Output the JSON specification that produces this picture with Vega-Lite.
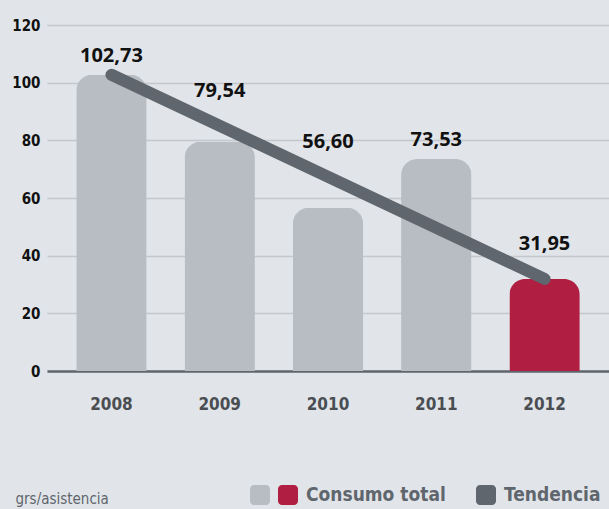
{
  "$schema": "https://vega.github.io/schema/vega-lite/v6.json",
  "width": 562,
  "height": 346,
  "autosize": {"type": "none"},
  "padding": {"left": 47, "top": 25, "right": 0, "bottom": 138},
  "background": "#e1e5e9",
  "config": {
    "view": {"stroke": null},
    "font": "DejaVu Sans Condensed, sans-serif"
  },
  "datasets": {
    "consumo": [
      {"anio": "2008", "valor": 102.73, "etiqueta": "102,73", "serie": "Anteriores"},
      {"anio": "2009", "valor": 79.54, "etiqueta": "79,54", "serie": "Anteriores"},
      {"anio": "2010", "valor": 56.60, "etiqueta": "56,60", "serie": "Anteriores"},
      {"anio": "2011", "valor": 73.53, "etiqueta": "73,53", "serie": "Anteriores"},
      {"anio": "2012", "valor": 31.95, "etiqueta": "31,95", "serie": "Consumo total"}
    ],
    "tendencia": [
      {"anio": "2008", "valor": 102.73},
      {"anio": "2012", "valor": 31.95}
    ]
  },
  "encoding": {
    "x": {
      "field": "anio",
      "type": "ordinal",
      "scale": {"domain": ["2008", "2009", "2010", "2011", "2012"], "paddingInner": 0.35, "paddingOuter": 0.27},
      "axis": {
        "title": "grs/asistencia",
        "titleAnchor": "start",
        "titleAlign": "left",
        "titleBaseline": "alphabetic",
        "titleX": -32,
        "titleY": 132,
        "titleFontSize": 15,
        "titleFontWeight": "normal",
        "titleColor": "#5f666d",
        "labelAngle": 0,
        "labelFontSize": 17,
        "labelFontWeight": "bold",
        "labelColor": "#4a4e53",
        "labelBaseline": "alphabetic",
        "labelPadding": 38,
        "ticks": false,
        "domainColor": "#5f666d",
        "domainWidth": 2.5,
        "grid": false
      }
    }
  },
  "layer": [
    {
      "data": {"name": "consumo"},
      "mark": {"type": "bar", "cornerRadiusTopLeft": 16, "cornerRadiusTopRight": 16},
      "encoding": {
        "y": {
          "field": "valor",
          "type": "quantitative",
          "scale": {"domain": [0, 120]},
          "axis": {
            "title": null,
            "values": [0, 20, 40, 60, 80, 100, 120],
            "labelFontSize": 15,
            "labelFontWeight": "bold",
            "labelColor": "#111111",
            "labelPadding": 7,
            "ticks": false,
            "domain": false,
            "gridColor": "#c4c8cc",
            "gridWidth": 1.5
          }
        },
        "color": {
          "field": "serie",
          "type": "nominal",
          "scale": {
            "domain": ["Anteriores", "Consumo total", "Tendencia"],
            "range": ["#b7bdc3", "#b01e41", "#5f666d"]
          },
          "legend": {
            "title": null,
            "orient": "none",
            "direction": "horizontal",
            "legendX": 203,
            "legendY": 460,
            "symbolType": "M -1 -0.6 A 0.4 0.4 0 0 1 -0.6 -1 L 0.6 -1 A 0.4 0.4 0 0 1 1 -0.6 L 1 0.6 A 0.4 0.4 0 0 1 0.6 1 L -0.6 1 A 0.4 0.4 0 0 1 -1 0.6 Z",
            "symbolSize": 400,
            "symbolStrokeWidth": 0,
            "symbolOpacity": 1,
            "labelFontSize": 19,
            "labelFontWeight": "bold",
            "labelColor": "#5f666d",
            "labelOffset": 8,
            "columnPadding": -1,
            "labelLimit": 300,
            "labelExpr": "datum.label == 'Anteriores' ? '' : datum.label == 'Consumo total' ? 'Consumo total\u00a0\u00a0\u00a0\u00a0\u00a0\u200b' : datum.label"
          }
        }
      }
    },
    {
      "data": {"name": "tendencia"},
      "mark": {"type": "line", "color": "#5f666d", "strokeWidth": 12, "strokeCap": "round"},
      "encoding": {
        "y": {"field": "valor", "type": "quantitative"}
      }
    },
    {
      "data": {"name": "consumo"},
      "transform": [
        {"calculate": "102.73 + (31.95 - 102.73) * (toNumber(datum.anio) - 2008) / 4", "as": "linea"},
        {"calculate": "datum.anio == '2008' || datum.valor > datum.linea ? datum.valor : datum.linea + 5.5", "as": "pos_etiqueta"}
      ],
      "mark": {"type": "text", "font": "Open Sans", "fontWeight": "bold", "fontSize": 20, "color": "#111111", "baseline": "middle", "dy": -19},
      "encoding": {
        "y": {"field": "pos_etiqueta", "type": "quantitative"},
        "text": {"field": "etiqueta"}
      }
    }
  ]
}
